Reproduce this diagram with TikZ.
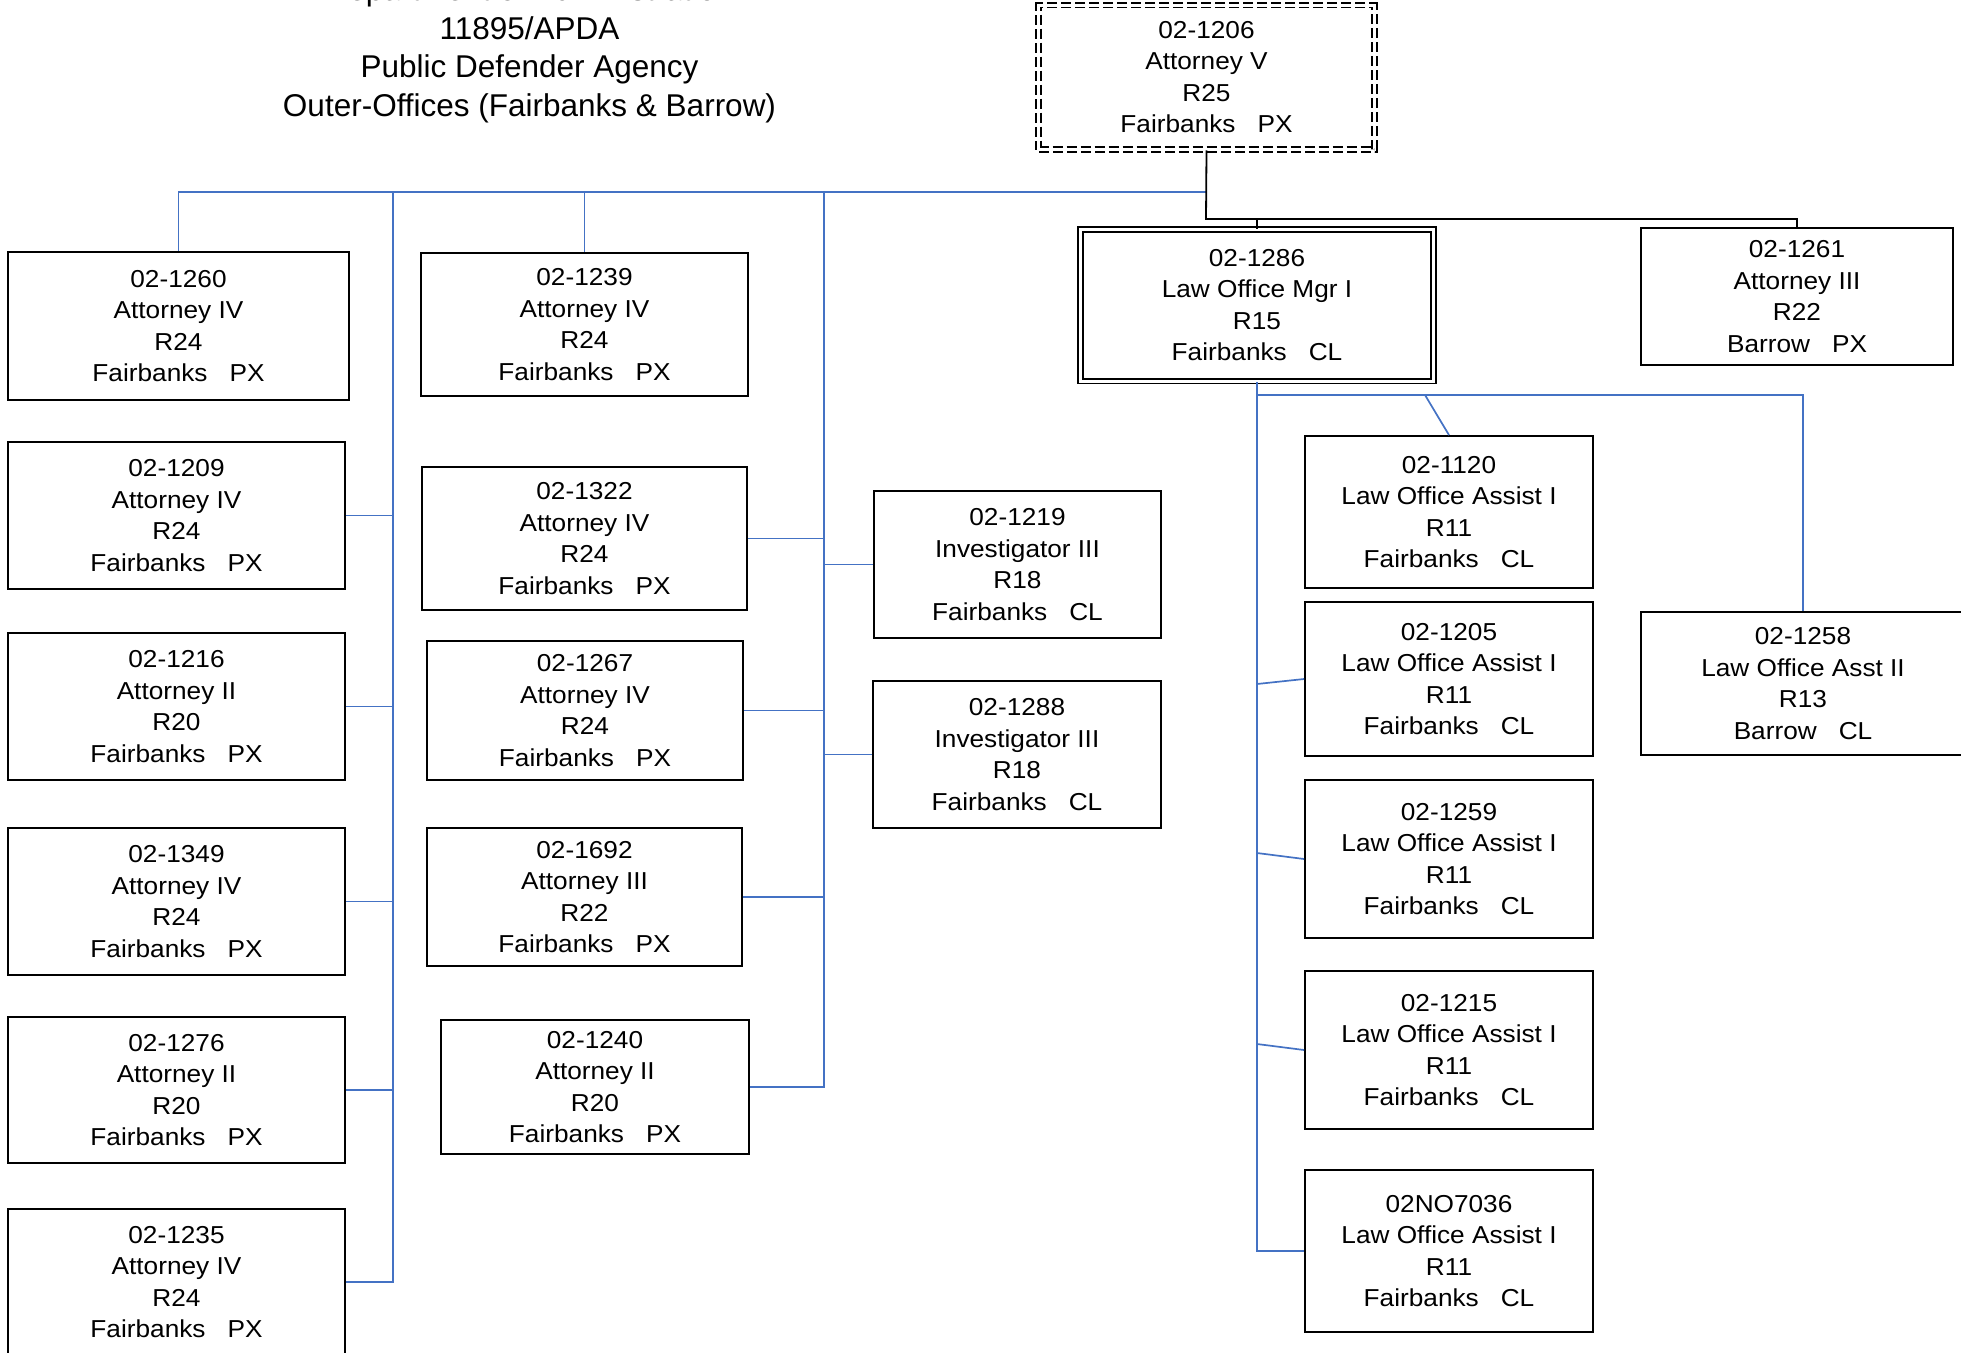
\documentclass[tikz,border=0pt]{standalone}
\usepackage{fontspec}
\setmainfont{Liberation Sans}
\newfontfamily\boxfont{Liberation Sans}[FakeStretch=1.07]
\definecolor{conblue}{RGB}{68,114,196}
\newcommand\locgap{\hspace{22pt}}
\begin{document}
\begin{tikzpicture}[x=1pt,y=-1pt,
  pbox/.style={draw=black, line width=1.8pt, fill=white, inner sep=0pt, align=center,
    font=\boxfont\fontsize{24.5}{31.5}\selectfont},
  dbl/.style={line width=1.8pt, double=white, double distance=3pt},
  conn/.style={draw=conblue, line width=1.7pt},
  blk/.style={draw=black, line width=1.8pt},
  ttl/.style={anchor=base, inner sep=0pt, font=\fontsize{31.5}{38}\selectfont}]
\useasboundingbox (0,0) rectangle (1961,1352);
\fill[white] (0,0) rectangle (1961,1352);
\clip (0,0) rectangle (1961,1352);

% title
\node[ttl] (t0) at (529.5,0.5) {Department of Administration};
\node[ttl] (t1) at (529.5,39) {11895/APDA};
\node[ttl] (t2) at (529.5,77.5) {Public Defender Agency};
\node[ttl] (t3) at (529.5,116) {Outer-Offices (Fairbanks \& Barrow)};

% top nodes
\node[pbox, dbl, dash pattern=on 10pt off 4pt,
  minimum width=336pt, minimum height=144.5pt] (n1206) at (1206.5,77.25)
  {02-1206\\Attorney V\\R25\\Fairbanks\locgap PX};
\node[pbox, dbl,
  minimum width=353pt, minimum height=151.5pt] (n1286) at (1257,305.25)
  {02-1286\\Law Office Mgr I\\R15\\Fairbanks\locgap CL};
\node[pbox, minimum width=312pt, minimum height=137pt] (n1261) at (1797,296.5)
  {02-1261\\Attorney III\\R22\\Barrow\locgap PX};
\node[pbox, minimum width=324pt, minimum height=143pt] (n1258) at (1803,683.5)
  {02-1258\\Law Office Asst II\\R13\\Barrow\locgap CL};

% left column
\node[pbox, minimum width=341pt, minimum height=148pt] (n1260) at (178.5,326)
  {02-1260\\Attorney IV\\R24\\Fairbanks\locgap PX};
\node[pbox, minimum width=337pt, minimum height=147pt] (n1209) at (176.5,515.5)
  {02-1209\\Attorney IV\\R24\\Fairbanks\locgap PX};
\node[pbox, minimum width=337pt, minimum height=147pt] (n1216) at (176.5,706.5)
  {02-1216\\Attorney II\\R20\\Fairbanks\locgap PX};
\node[pbox, minimum width=337pt, minimum height=147pt] (n1349) at (176.5,901.5)
  {02-1349\\Attorney IV\\R24\\Fairbanks\locgap PX};
\node[pbox, minimum width=337pt, minimum height=146pt] (n1276) at (176.5,1090)
  {02-1276\\Attorney II\\R20\\Fairbanks\locgap PX};
\node[pbox, minimum width=337pt, minimum height=146pt] (n1235) at (176.5,1282)
  {02-1235\\Attorney IV\\R24\\Fairbanks\locgap PX};

% middle column
\node[pbox, minimum width=327pt, minimum height=143pt] (n1239) at (584.5,324.5)
  {02-1239\\Attorney IV\\R24\\Fairbanks\locgap PX};
\node[pbox, minimum width=325pt, minimum height=143pt] (n1322) at (584.5,538.5)
  {02-1322\\Attorney IV\\R24\\Fairbanks\locgap PX};
\node[pbox, minimum width=316pt, minimum height=139pt] (n1267) at (585,710.5)
  {02-1267\\Attorney IV\\R24\\Fairbanks\locgap PX};
\node[pbox, minimum width=315pt, minimum height=138pt] (n1692) at (584.5,897)
  {02-1692\\Attorney III\\R22\\Fairbanks\locgap PX};
\node[pbox, minimum width=308pt, minimum height=134pt] (n1240) at (595,1087)
  {02-1240\\Attorney II\\R20\\Fairbanks\locgap PX};
\node[pbox, minimum width=287pt, minimum height=147pt] (n1219) at (1017.5,564.5)
  {02-1219\\Investigator III\\R18\\Fairbanks\locgap CL};
\node[pbox, minimum width=288pt, minimum height=147pt] (n1288) at (1017,754.5)
  {02-1288\\Investigator III\\R18\\Fairbanks\locgap CL};

% right column
\node[pbox, minimum width=288pt, minimum height=152pt] (n1120) at (1449,512)
  {02-1120\\Law Office Assist I\\R11\\Fairbanks\locgap CL};
\node[pbox, minimum width=288pt, minimum height=154pt] (n1205) at (1449,679)
  {02-1205\\Law Office Assist I\\R11\\Fairbanks\locgap CL};
\node[pbox, minimum width=288pt, minimum height=158pt] (n1259) at (1449,859)
  {02-1259\\Law Office Assist I\\R11\\Fairbanks\locgap CL};
\node[pbox, minimum width=288pt, minimum height=158pt] (n1215) at (1449,1050)
  {02-1215\\Law Office Assist I\\R11\\Fairbanks\locgap CL};
\node[pbox, minimum width=288pt, minimum height=162pt] (n7036) at (1449,1251)
  {02NO7036\\Law Office Assist I\\R11\\Fairbanks\locgap CL};

% blue connectors
\coordinate (hub) at (1206,192);
\coordinate (ltop) at (393,192);
\coordinate (mtop) at (824,192);
\draw[conn] (hub) -- (n1260.north |- hub) -- (n1260.north);
\draw[conn] (n1239.north |- hub) -- (n1239.north);
\draw[conn] (ltop) -- (ltop |- n1235.east) -- (n1235.east);
\foreach \n in {n1209,n1216,n1349,n1276} \draw[conn] (\n.east) -- (\n.east -| ltop);
\draw[conn] (mtop) -- (mtop |- n1240.east) -- (n1240.east);
\foreach \n in {n1322,n1267,n1692} \draw[conn] (\n.east) -- (\n.east -| mtop);
\foreach \n in {n1219,n1288} \draw[conn] (\n.west) -- (\n.west -| mtop);

\coordinate (rt) at (1257,395);
\coordinate (dg) at (1425,395);
\coordinate (c1205) at (1257,684);
\coordinate (c1259) at (1257,853);
\coordinate (c1215) at (1257,1044);
\draw[conn] (n1286.south) -- (n1286.south |- n7036.west) -- (n7036.west);
\draw[conn] (rt) -- (rt -| n1258.north) -- (n1258.north);
\draw[conn] (dg) -- (n1120.north);
\draw[conn] (c1205) -- (n1205.west);
\draw[conn] (c1259) -- (n1259.west);
\draw[conn] (c1215) -- (n1215.west);

% black connectors
\coordinate (jt) at (1206,219);
\draw[blk] (n1206.south) -- (jt) -| (n1261.north);
\draw[blk] (n1286.north |- jt) -- (n1286.north);
\end{tikzpicture}
\end{document}
